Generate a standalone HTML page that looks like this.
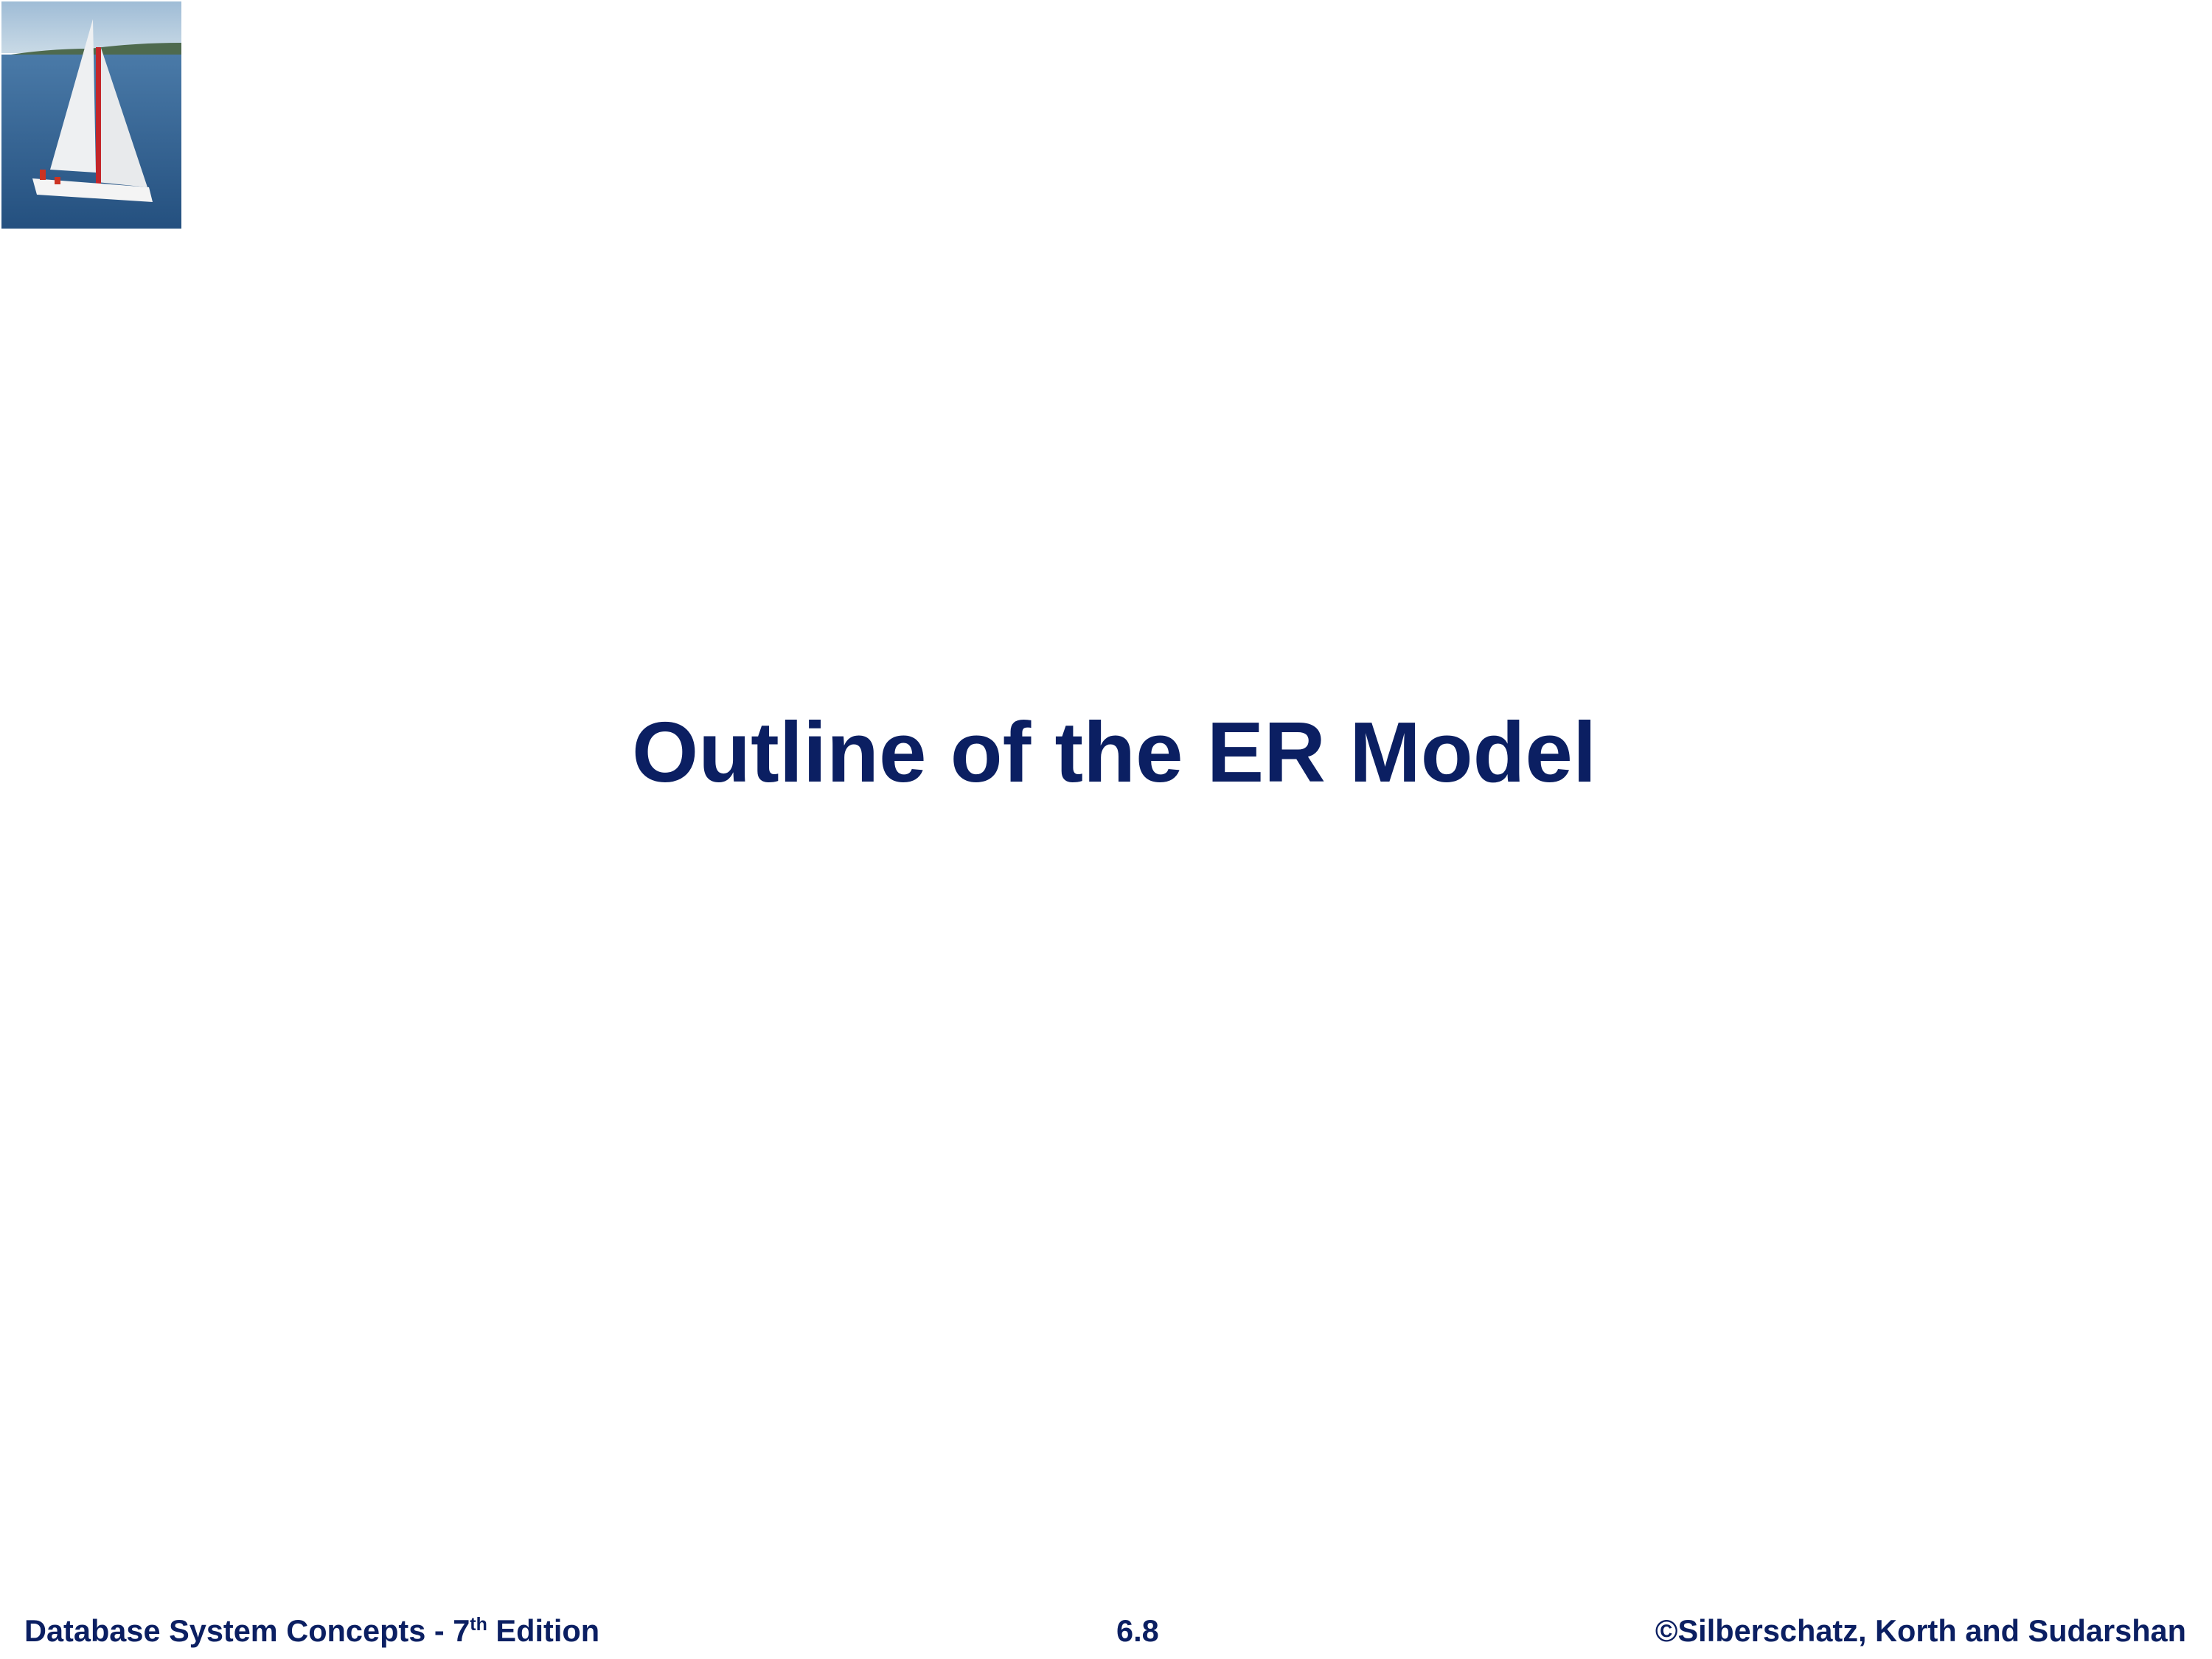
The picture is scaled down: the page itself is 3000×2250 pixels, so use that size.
<!DOCTYPE html>
<html><head><meta charset="utf-8"><style>
html,body{margin:0;padding:0;background:#fff;}
body{width:3000px;height:2250px;position:relative;overflow:hidden;font-family:"Liberation Sans",Arial,sans-serif;color:#0b1f62;font-weight:bold;}
.t{position:absolute;white-space:nowrap;line-height:1;}
</style></head><body>
<svg style="position:absolute;left:2px;top:2px" width="244" height="308" viewBox="0 0 244 308">
<defs><linearGradient id="sky" x1="0" y1="0" x2="0" y2="1"><stop offset="0" stop-color="#9fbcd6"/><stop offset="1" stop-color="#c9dae6"/></linearGradient>
<linearGradient id="sea" x1="0" y1="0" x2="0" y2="1"><stop offset="0" stop-color="#4a7aa8"/><stop offset="1" stop-color="#24507f"/></linearGradient></defs>
<rect width="244" height="70" fill="url(#sky)"/>
<path d="M0 74 Q60 64 120 64 Q180 56 244 56 L244 74 Z" fill="#4e6a4e"/>
<rect y="72" width="244" height="236" fill="url(#sea)"/>
<path d="M124 24 L66 228 L128 232 Z" fill="#eef0f2"/>
<path d="M134 60 L130 245 L198 252 Z" fill="#e8eaec"/>
<rect x="128" y="62" width="7" height="186" fill="#c3262a"/>
<path d="M42 240 L200 252 L205 272 L48 262 Z" fill="#f4f4f4"/>
<rect x="52" y="228" width="8" height="14" fill="#c32"/><rect x="72" y="238" width="8" height="10" fill="#c32"/>
</svg>
<div class="t" style="left:857px;top:962px;font-size:116px;">Outline of the ER Model</div>
<div class="t" style="left:33px;top:2191px;font-size:41.5px;">Database System Concepts - 7<sup style="font-size:25px;vertical-align:15px;line-height:0">th</sup> Edition</div>
<div class="t" style="left:1514px;top:2191px;font-size:41.5px;">6.8</div>
<div class="t" style="right:35px;top:2191px;font-size:41.5px;">©Silberschatz, Korth and Sudarshan</div>
</body></html>
